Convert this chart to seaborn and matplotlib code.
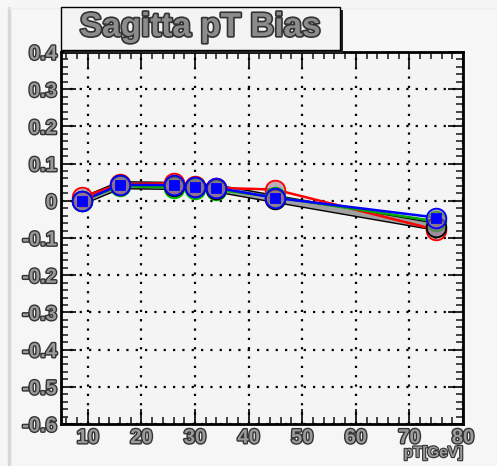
import matplotlib
matplotlib.use("Agg")
import matplotlib.pyplot as plt
import matplotlib.patheffects as pe
from matplotlib.ticker import MultipleLocator
import seaborn as sns
import pandas as pd

pt_gev = [9, 16, 26, 30, 34, 45, 75]
bias_red = [0.010, 0.045, 0.047, 0.040, 0.035, 0.030, -0.078]
bias_green = [0.000, 0.040, 0.035, 0.033, 0.030, 0.010, -0.055]
bias_black = [0.000, 0.042, 0.040, 0.037, 0.033, 0.005, -0.070]
bias_blue = [0.000, 0.043, 0.042, 0.038, 0.035, 0.008, -0.045]
series_names = ["red", "green", "black", "blue"]
x_ticks = [10, 20, 30, 40, 50, 60, 70, 80]
y_ticks = [0.4, 0.3, 0.2, 0.1, 0, -0.1, -0.2, -0.3, -0.4, -0.5, -0.6]
y_tick_labels = ["0.4", "0.3", "0.2", "0.1", "0", "-0.1", "-0.2", "-0.3", "-0.4", "-0.5", "-0.6"]
title_text = "Sagitta pT Bias"
x_label = "pT[GeV]"

sns.set_theme(style="ticks")
plt.rcParams['font.family'] = ['Liberation Sans', 'DejaVu Sans']

frames = []
for name, vals in zip(series_names, [bias_red, bias_green, bias_black, bias_blue]):
    frames.append(pd.DataFrame({"pt": pt_gev, "bias": vals, "series": name}))
df = pd.concat(frames, ignore_index=True)

fig = plt.figure(figsize=(4.97, 4.66), dpi=100)
fig.patch.set_facecolor("#f6f6f6")
ax = fig.add_axes([61/497, 1-424/466, (463-61)/497, (424-52)/466])
ax.set_facecolor("#f4f4f4")

# thick underlying grey band (black series)
sns.lineplot(data=df[df.series == "black"], x="pt", y="bias", ax=ax,
             color="black", lw=6.0, zorder=3, legend=False)
sns.lineplot(data=df[df.series == "black"], x="pt", y="bias", ax=ax,
             color="#a0a0a0", lw=4.0, zorder=3.1, legend=False)
line_cols = {"red": "#ff0000", "green": "#00aa00", "blue": "#0000ff"}
for i, name in enumerate(["red", "green", "blue"]):
    sns.lineplot(data=df[df.series == name], x="pt", y="bias", ax=ax,
                 color=line_cols[name], lw=1.8, zorder=3.5 + i * 0.1, legend=False)

edge_cols = {"red": "#ff0000", "green": "#00bb00", "black": "#000000", "blue": "#0000ff"}
for i, name in enumerate(series_names):
    sub = df[df.series == name]
    sns.scatterplot(data=sub, x="pt", y="bias", ax=ax, marker="o", s=200,
                    facecolor=(0.55, 0.45, 0.55, 0.55), edgecolor=edge_cols[name],
                    linewidth=1.3, zorder=5 + i * 0.1, legend=False)
sns.scatterplot(data=df[df.series == "blue"], x="pt", y="bias", ax=ax, marker="s",
                s=55, color="#0000ff", edgecolor="#0000ff", zorder=6, legend=False)

ax.set_xlim(5, 80)
ax.set_ylim(-0.6, 0.4)
ax.set_xticks(x_ticks)
ax.set_yticks(y_ticks)
ax.xaxis.set_minor_locator(MultipleLocator(2))
ax.yaxis.set_minor_locator(MultipleLocator(0.02))
ax.grid(True, which="major", color="black", linestyle=(0, (1, 3.2)), linewidth=1.6)
ax.tick_params(which="major", direction="in", length=11, width=1.2, top=True, right=True,
               colors="black", pad=3)
ax.tick_params(which="minor", direction="in", length=5, width=1.2, top=True, right=True)
ax.tick_params(axis="x", labeltop=False, labelright=False)
for s in ax.spines.values():
    s.set_linewidth(2.0)
    s.set_color("black")
    s.set_visible(True)

outline = [pe.withStroke(linewidth=2.0, foreground="#333333")]
ax.set_xticklabels([str(t) for t in x_ticks], fontsize=14.5, fontweight="bold",
                   color="#9a9a9a", path_effects=outline)
ax.set_yticklabels(y_tick_labels, fontsize=14.5, fontweight="bold",
                   color="#9a9a9a", path_effects=outline)
ax.set_xlabel("")
ax.set_ylabel("")
fig.text(463/497, 1-(453)/466, x_label, ha="right", va="center", fontsize=11,
         fontweight="bold", color="#9a9a9a",
         path_effects=[pe.withStroke(linewidth=1.6, foreground="#333333")])

# canvas bevel line on the left
fig.add_artist(plt.Line2D([9/497, 9/497], [0, 1-8/466], color="#d8d8d8", lw=2.5))
fig.add_artist(plt.Line2D([9/497, 1], [1-8/466, 1-8/466], color="#eeeeee", lw=1.0))

# title box with shadow
bx0, bx1 = 61/497, 340/497
by0, by1 = 1-50/466, 1-7/466
shadow = plt.Rectangle((bx0 + 3/497, by0 - 3/466), bx1 - bx0, by1 - by0,
                       transform=fig.transFigure, facecolor="#222222", edgecolor="none", zorder=10)
box = plt.Rectangle((bx0, by0), bx1 - bx0, by1 - by0, transform=fig.transFigure,
                    facecolor="#f4f4f4", edgecolor="black", lw=1.0, zorder=11)
fig.add_artist(shadow)
fig.add_artist(box)
fig.text((bx0 + bx1) / 2, (by0 + by1) / 2 + 1/466, title_text, ha="center", va="center",
         fontsize=24, fontweight="bold", color="#8c8c8c", zorder=12,
         path_effects=[pe.withStroke(linewidth=2.4, foreground="#333333")])

fig.savefig("out.png", dpi=100, facecolor=fig.get_facecolor())
